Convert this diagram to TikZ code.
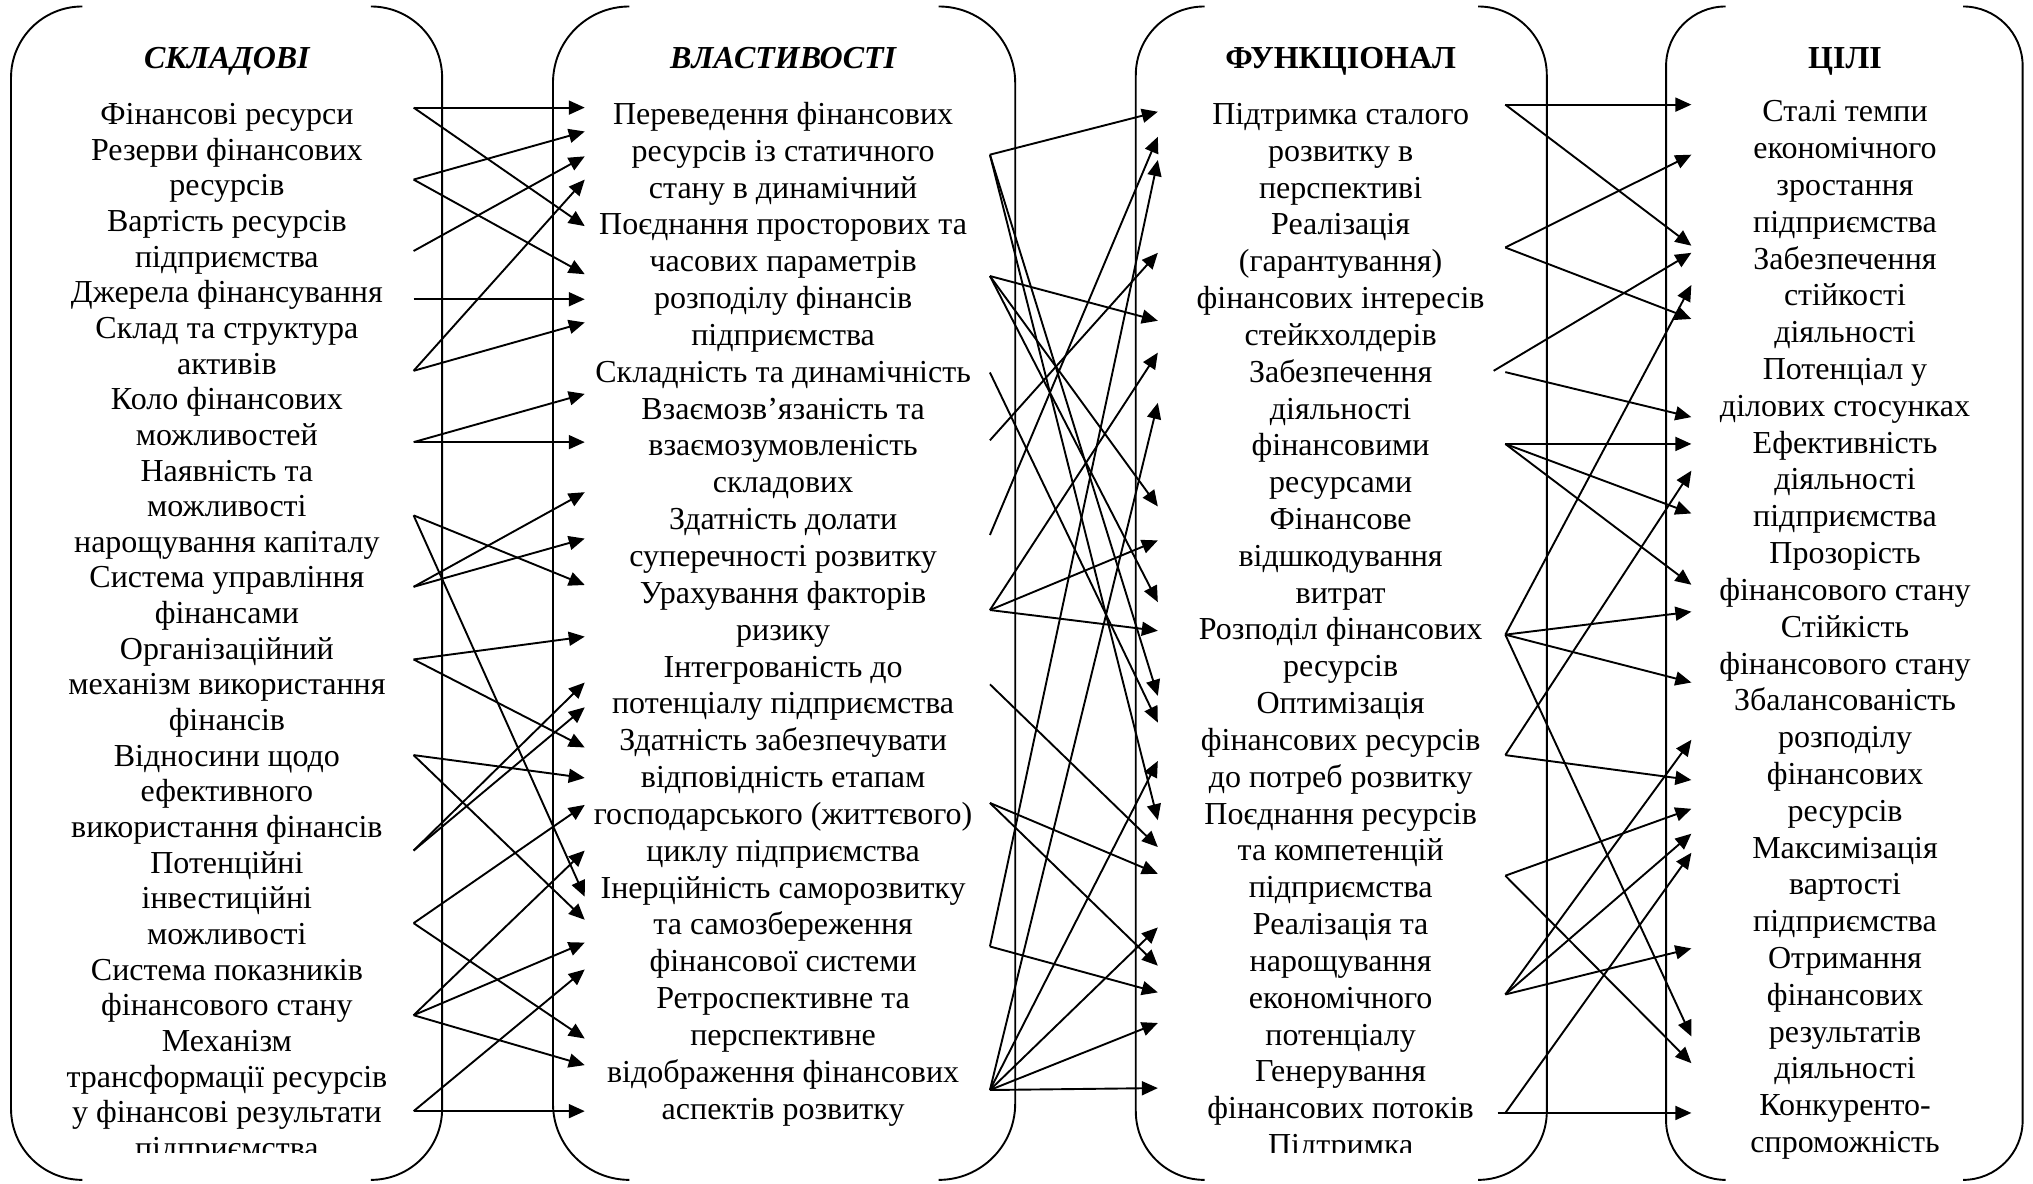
\documentclass[tikz,border=0pt]{standalone}
\usepackage{fontspec}
\setmainfont{Liberation Serif}
\usetikzlibrary{arrows.meta}

\tikzset{
  arr/.style={line width=1.9pt, -{Triangle[length=16pt,width=14pt]}},
  bracket/.style={line width=1.9pt},
  itemtext/.style={anchor=base, inner sep=0pt, font=\fontsize{32}{36}\selectfont},
  headtext/.style={anchor=base, inner sep=0pt, font=\fontsize{32}{36}\selectfont\bfseries},
}

\begin{document}
\begin{tikzpicture}[x=1.2966pt,y=-1.2966pt]
\useasboundingbox (0,0) rectangle (1568,913);
\fill[white] (0,0) rectangle (1568,913);

% ---------- double brackets around the four columns ----------
\draw[bracket, rounded corners=71.2pt] (63.5,5) -- (8.5,5) -- (8.5,910) -- (63.5,910);
\draw[bracket, rounded corners=71.2pt] (286,5) -- (341,5) -- (341,910) -- (286,910);
\draw[bracket, rounded corners=76.4pt] (485.5,5) -- (426.5,5) -- (426.5,910) -- (485.5,910);
\draw[bracket, rounded corners=76.4pt] (724,5) -- (783,5) -- (783,910) -- (724,910);
\draw[bracket, rounded corners=68.6pt] (929,5) -- (876,5) -- (876,910) -- (929,910);
\draw[bracket, rounded corners=68.6pt] (1140,5) -- (1193,5) -- (1193,910) -- (1140,910);
\draw[bracket, rounded corners=59.5pt] (1331,5) -- (1285,5) -- (1285,910) -- (1331,910);
\draw[bracket, rounded corners=59.5pt] (1514,5) -- (1560,5) -- (1560,910) -- (1514,910);

% ---------- headers ----------
\node[headtext, font=\fontsize{32}{36}\selectfont\bfseries\itshape] (h1) at (175,53) {СКЛАДОВІ};
\node[headtext, font=\fontsize{32}{36}\selectfont\bfseries\itshape] (h2) at (604,53) {ВЛАСТИВОСТІ};
\node[headtext] (h3) at (1034,53) {ФУНКЦІОНАЛ};
\node[headtext] (h4) at (1423,53) {ЦІЛІ};

% ---------- column 1 ----------
\begin{scope}
\clip (0,0) rectangle (430,889);
\foreach \t [count=\i from 0] in {Фінансові ресурси, Резерви фінансових, ресурсів,
  Вартість ресурсів, підприємства, Джерела фінансування, Склад та структура, активів,
  Коло фінансових, можливостей, Наявність та, можливості, нарощування капіталу,
  Система управління, фінансами, Організаційний, механізм використання, фінансів,
  Відносини щодо, ефективного, використання фінансів, Потенційні, інвестиційні,
  можливості, Система показників, фінансового стану, Механізм,
  трансформації ресурсів, у фінансові результати, підприємства}
  \node[itemtext] (k1-\i) at (175,96+27.5*\i) {\t};
\end{scope}

% ---------- column 2 ----------
\foreach \t [count=\i from 0] in {Переведення фінансових, ресурсів із статичного,
  стану в динамічний, Поєднання просторових та, часових параметрів, розподілу фінансів,
  підприємства, Складність та динамічність, Взаємозв’язаність та, взаємозумовленість,
  складових, Здатність долати, суперечності розвитку, Урахування факторів, ризику,
  Інтегрованість до, потенціалу підприємства, Здатність забезпечувати,
  відповідність етапам, господарського (життєвого), циклу підприємства,
  Інерційність саморозвитку, та самозбереження, фінансової системи, Ретроспективне та,
  перспективне, відображення фінансових, аспектів розвитку}
  \node[itemtext] (k2-\i) at (604,96+28.41*\i) {\t};

% ---------- column 3 ----------
\begin{scope}
\clip (860,0) rectangle (1210,889);
\foreach \t [count=\i from 0] in {Підтримка сталого, розвитку в, перспективі, Реалізація,
  (гарантування), фінансових інтересів, стейкхолдерів, Забезпечення, діяльності,
  фінансовими, ресурсами, Фінансове, відшкодування, витрат, Розподіл фінансових,
  ресурсів, Оптимізація, фінансових ресурсів, до потреб розвитку, Поєднання ресурсів,
  та компетенцій, підприємства, Реалізація та, нарощування, економічного, потенціалу,
  Генерування, фінансових потоків, Підтримка}
  \node[itemtext] (k3-\i) at (1034,96+28.4*\i) {\t};
\end{scope}

% ---------- column 4 ----------
\foreach \t [count=\i from 0] in {Сталі темпи, економічного, зростання, підприємства,
  Забезпечення, стійкості, діяльності, Потенціал у, ділових стосунках, Ефективність,
  діяльності, підприємства, Прозорість, фінансового стану, Стійкість,
  фінансового стану, Збалансованість, розподілу, фінансових, ресурсів, Максимізація,
  вартості, підприємства, Отримання, фінансових, результатів, діяльності,
  Конкуренто-, спроможність}
  \node[itemtext] (k4-\i) at (1423,94+28.39*\i) {\t};

% ---------- connector ends: components -> properties ----------
\foreach \n/\y in {A/83, B/138.5, C/193.6, D/230.8, E/286, F/341, G/397.5, H/452.6,
  I/508.6, J/582.4, K/656, L/712, M/783, N/857}
  \coordinate (s\n) at (319,\y);
\foreach \n/\y in {1/83, 2/101.4, 3/120.6, 4/138.5, 5/174.4, 6/211.5, 7/230.8, 8/248.7,
  9/303.8, 10/341, 11/379.6, 12/415.4, 13/451.2, 14/491, 15/526.4, 16/545.5, 17/576.5,
  18/600, 19/620.8, 20/656, 21/691.6, 22/709.4, 23/727, 24/747.7, 25/801, 26/821.5, 27/857}
  \coordinate (u\n) at (451,\y);

\foreach \s/\t in {A/1, A/5, B/2, B/6, C/3, D/7, E/4, E/8, F/9, F/10, G/13, G/21,
  H/11, H/12, I/14, I/17, J/18, J/22, K/15, K/16, L/19, L/25, M/20, M/23, M/26, N/24, N/27}
  \draw[arr] (s\s) -- (u\t);

% ---------- connector ends: properties -> functions ----------
\foreach \n/\y in {1/119.3, 2/212.9, 3/287.3, 4/339.6, 5/412.6, 6/470.5, 7/527.8,
  8/619.3, 9/730, 10/840.7}
  \coordinate (p\n) at (763.5,\y);
\foreach \n/\y in {1/86.2, 2/105.5, 3/123.4, 4/195, 5/247.4, 6/272, 7/310.7, 8/390.6,
  9/416.8, 10/464.4, 11/486.5, 12/536.7, 13/557.3, 14/586.9, 15/632.6, 16/653.3,
  17/673.9, 18/715.3, 19/744.8, 20/765.4, 21/789, 22/839.2}
  \coordinate (v\n) at (893,\y);

\foreach \s/\t in {1/1, 1/12, 1/15, 2/5, 2/8, 2/10, 3/13, 4/4, 5/2, 6/6, 6/9, 6/11,
  7/16, 8/17, 8/19, 9/3, 9/20, 10/7, 10/14, 10/18, 10/21, 10/22}
  \draw[arr] (p\s) -- (v\t);

% ---------- connector ends: functions -> goals ----------
\foreach \n/\y in {1/80.7, 2/190.9, 3/287, 4/342.4, 5/489.5, 6/582.4, 7/675.4,
  8/767, 9/858.4}
  \coordinate (r\n) at (1161,\y);
\coordinate (r3b) at (1152,286);
\coordinate (r9b) at (1155,858.4);
\foreach \n/\y in {1/80.7, 2/119.3, 3/189.5, 4/195, 5/219.8, 6/246, 7/321.7, 8/342.4,
  9/363, 10/396, 11/451, 12/471.8, 13/526.4, 14/570.6, 15/601.6, 16/623.8, 17/643,
  18/657.7, 19/731.5, 20/799.4, 21/820, 22/858.4}
  \coordinate (w\n) at (1304.5,\y);

\foreach \s/\t in {1/1, 1/3, 2/2, 2/6, 3b/4, 3/7, 4/8, 4/10, 4/11, 5/5, 5/12, 5/13,
  5/20, 6/9, 6/15, 7/16, 7/21, 8/14, 8/17, 8/19, 9b/22, 9/18}
  \draw[arr] (r\s) -- (w\t);

\end{tikzpicture}
\end{document}
